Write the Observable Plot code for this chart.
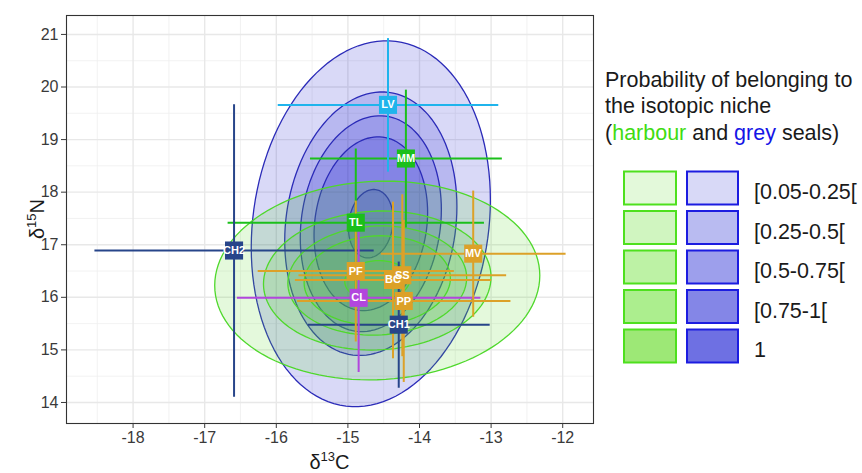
<!DOCTYPE html>
<html><head><meta charset="utf-8">
<script src="https://cdn.jsdelivr.net/npm/d3@7"></script>
<script src="https://cdn.jsdelivr.net/npm/@observablehq/plot@0.6"></script>
<style>
body{margin:0;background:#fff;}
#wrap{position:relative;width:862px;height:473px;}
</style></head><body><div id="wrap"></div>
<script>
// ---- data ----
const species = ["LV","MM","TL","CH2","MV","PF","SS","BC","PP","CL","CH1"];
const groupOf = ["lv","green","green","navy","orange","orange","orange","orange","orange","purple","navy"];
const meanC = [-14.44,-14.19,-14.89,-16.59,-13.25,-14.89,-14.24,-14.37,-14.22,-14.85,-14.29];
const sdC   = [1.54,1.34,1.79,1.95,1.29,1.37,1.45,1.37,1.49,1.70,1.27];
const meanN = [19.66,18.64,17.42,16.89,16.83,16.50,16.42,16.33,15.93,15.99,15.48];
const sdN   = [1.27,1.31,1.41,2.78,1.20,1.34,1.54,1.49,1.54,1.41,1.20];

// isotopic niche ellipses (grey seal, harbour seal)
const niches   = ["grey","harbour"];
const nicheC   = [-14.68,-14.59];
const nicheN   = [17.40,16.32];
const nicheRC  = [1.67,2.27];
const nicheRN  = [3.48,1.89];
const nicheRho = [0.13,0.05];
const greyLevels    = [1,0.72,0.59,0.475,0.187];
const harbourLevels = [1,0.70,0.55,0.45,0.20];
const levelLabels = ["[0.05-0.25[","[0.25-0.5[","[0.5-0.75[","[0.75-1[","1"];

const majorX = [-18,-17,-16,-15,-14,-13,-12];
const minorX = [-18.5,-17.5,-16.5,-15.5,-14.5,-13.5,-12.5];
const majorY = [14,15,16,17,18,19,20,21];
const minorY = [14.5,15.5,16.5,17.5,18.5,19.5,20.5];

// ---- styles ----
const groupColor = {lv:"#1fb4ec", green:"#1bbf1b", navy:"#27458a", orange:"#dca128", purple:"#b246dd"};
const FONT = "Liberation Sans, Arial, sans-serif";

function ellipseRows(ni, levels){
  const rows = [];
  const rho = nicheRho[ni], q = Math.sqrt(1 - rho*rho);
  levels.forEach((s,k)=>{
    for(let j=0;j<=120;j++){
      const t = 2*Math.PI*j/120;
      rows.push({id:k,
        c: nicheC[ni] + s*nicheRC[ni]*Math.cos(t),
        n: nicheN[ni] + s*nicheRN[ni]*(rho*Math.cos(t) + q*Math.sin(t))});
    }
  });
  return rows;
}
const greyRows = ellipseRows(0, greyLevels);
const harbourRows = ellipseRows(1, harbourLevels);
const idx = species.map((d,i)=>i);

const plot = Plot.plot({
  width: 862, height: 473,
  marginLeft: 66, marginRight: 269, marginTop: 15, marginBottom: 50,
  style: {fontFamily: FONT, background: "#fff"},
  x: {domain: [-18.93,-11.57], label: null},
  y: {domain: [13.6,21.36], label: null},
  marks: [
    Plot.ruleX(minorX, {stroke:"#efefef", strokeWidth:0.8}),
    Plot.ruleY(minorY, {stroke:"#efefef", strokeWidth:0.8}),
    Plot.ruleX(majorX, {stroke:"#e8e8e8", strokeWidth:1.4}),
    Plot.ruleY(majorY, {stroke:"#e8e8e8", strokeWidth:1.4}),
    Plot.line(greyRows, {x:"c", y:"n", z:"id", curve:"linear", fill:"rgb(0,0,200)", fillOpacity:0.15, stroke:"#2b2bb8", strokeWidth:1.3}),
    Plot.line(harbourRows, {x:"c", y:"n", z:"id", curve:"linear", fill:"rgb(85,218,36)", fillOpacity:0.16, stroke:"#4fd82c", strokeWidth:1.3}),
    Plot.link(idx, {x1: i=>meanC[i]-sdC[i], x2: i=>meanC[i]+sdC[i], y1: i=>meanN[i], y2: i=>meanN[i], stroke: i=>groupColor[groupOf[i]], strokeWidth:2}),
    Plot.link(idx, {x1: i=>meanC[i], x2: i=>meanC[i], y1: i=>meanN[i]-sdN[i], y2: i=>meanN[i]+sdN[i], stroke: i=>groupColor[groupOf[i]], strokeWidth:2}),
    Plot.dot(idx, {x: i=>meanC[i], y: i=>meanN[i], symbol:"square", r:10.2, fill: i=>groupColor[groupOf[i]], stroke:"none"}),
    Plot.text(idx, {x: i=>meanC[i], y: i=>meanN[i], text: i=>species[i], fill:"#fff", fontWeight:"bold", fontSize:11}),
    Plot.frame({stroke:"#333", strokeWidth:1.1}),
    Plot.axisX(majorX, {tickSize:5, tickPadding:3, fontSize:16, color:"#3a3a3a", tickFormat: d=>String(d), label:null}),
    Plot.axisY(majorY, {tickSize:5, tickPadding:3, fontSize:16, color:"#3a3a3a", tickFormat: d=>String(d), label:null})
  ]
});
document.getElementById("wrap").appendChild(plot);

const svg = d3.select(plot);
// axis titles
const xt = svg.append("text").attr("x",329.5).attr("y",469).attr("text-anchor","middle")
  .attr("font-family",FONT).attr("font-size",20).attr("fill","#1a1a1a");
xt.append("tspan").text("δ");
xt.append("tspan").attr("font-size",13).attr("dy",-8).text("13");
xt.append("tspan").attr("dy",8).text("C");
const yt = svg.append("text").attr("transform","translate(44,219) rotate(-90)").attr("text-anchor","middle")
  .attr("font-family",FONT).attr("font-size",20).attr("fill","#1a1a1a");
yt.append("tspan").text("δ");
yt.append("tspan").attr("font-size",13).attr("dy",-8).text("15");
yt.append("tspan").attr("dy",8).text("N");

// legend
const lg = svg.append("g").attr("font-family",FONT).attr("fill","#1a1a1a").attr("text-anchor","start");
lg.append("text").attr("x",605).attr("y",87).attr("font-size",21.5).attr("text-anchor","start").text("Probability of belonging to");
lg.append("text").attr("x",605).attr("y",113).attr("font-size",21.5).attr("text-anchor","start").text("the isotopic niche");
const t3 = lg.append("text").attr("x",605).attr("y",139.5).attr("font-size",21.5).attr("text-anchor","start");
t3.append("tspan").text("(");
t3.append("tspan").attr("fill","#3fdc12").text("harbour");
t3.append("tspan").text(" and ");
t3.append("tspan").attr("fill","#1515e6").text("grey");
t3.append("tspan").text(" seals)");
const greenFill = ["#e3f9da","#d0f5c0","#bdf2a5","#acee8e","#9de876"];
const blueFill  = ["#d8d9f7","#b9bbf1","#9d9fec","#8486e7","#6e70e3"];
levelLabels.forEach((lab,k)=>{
  const cy = 188 + k*39.5;
  lg.append("rect").attr("x",624).attr("y",cy-16.5).attr("width",52).attr("height",33)
    .attr("fill",greenFill[k]).attr("stroke","#4ee01e").attr("stroke-width",2);
  lg.append("rect").attr("x",687).attr("y",cy-16.5).attr("width",51).attr("height",33)
    .attr("fill",blueFill[k]).attr("stroke","#1c1ce0").attr("stroke-width",2);
  lg.append("text").attr("x",754).attr("y",cy+11).attr("font-size",21.5).attr("text-anchor","start").text(lab);
});
</script>
</body></html>
